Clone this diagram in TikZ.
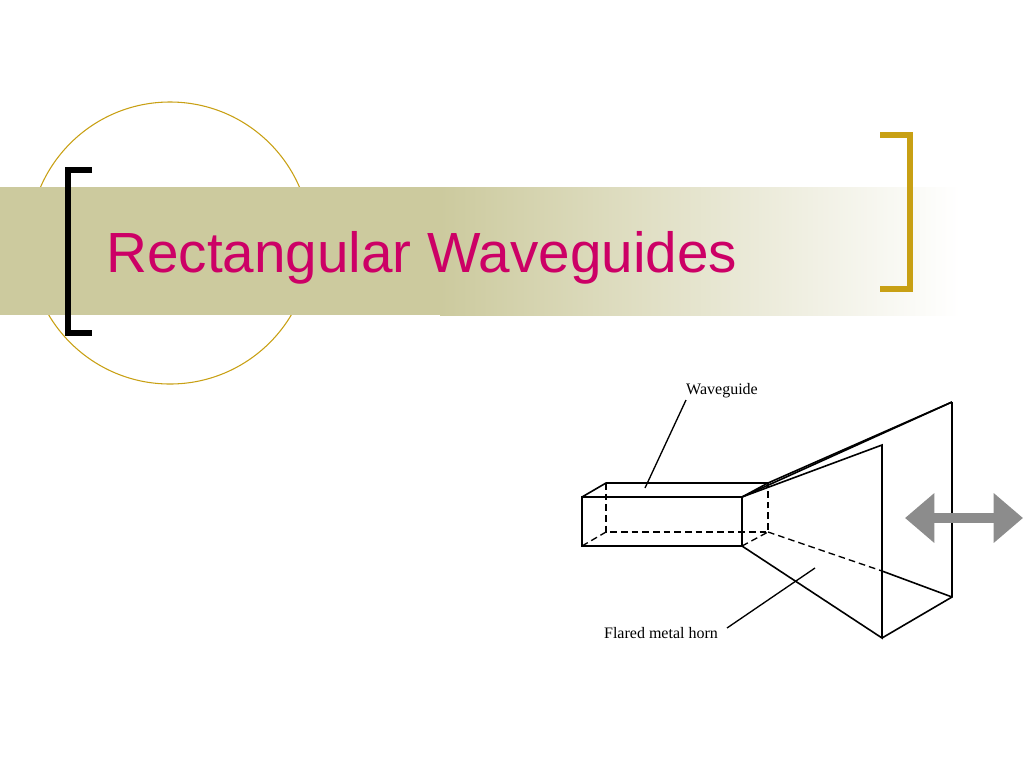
\documentclass[tikz,border=0pt]{standalone}
\usepackage{fontspec}
\setmainfont{Liberation Sans}
\newfontfamily\serifx{Liberation Serif}
\usetikzlibrary{arrows.meta}
\definecolor{olive}{RGB}{204,202,158}
\definecolor{gold}{RGB}{200,160,20}
\definecolor{mag}{RGB}{204,0,102}
\begin{document}
\begin{tikzpicture}[x=0.75pt,y=-0.75pt,
  ln/.style={line width=1.2pt,black},
  dl/.style={line width=1pt,black,dash pattern=on 5pt off 3pt},
  lbl/.style={font=\serifx\fontsize{12}{14}\selectfont,inner sep=1pt}]
\useasboundingbox (0,0) rectangle (1024,768);
\draw[gold,line width=0.8pt] (170,243) circle (141);
\fill[olive] (0,187) rectangle (441,315);
\shade[left color=olive,right color=white] (440,187) rectangle (960,315);
\draw[black,line width=4pt] (92,170) -- (68,170) -- (68,333) -- (92,333);
\draw[gold,line width=4pt] (880,135) -- (910,135) -- (910,289) -- (880,289);
\node[anchor=base west,text=mag,font=\fontsize{42.5}{48}\selectfont,inner sep=0] (title) at (106,272) {Rectangular Waveguides};
% waveguide
\coordinate (A) at (582,497); \coordinate (B) at (742,497);
\coordinate (C) at (742,546); \coordinate (D) at (582,546);
\coordinate (E) at (606,483); \coordinate (F) at (768,483);
\coordinate (G) at (768,532); \coordinate (H) at (606,532);
\coordinate (P) at (882,445); \coordinate (Q) at (952,402);
\coordinate (R) at (952,597); \coordinate (S) at (882,638);
\coordinate (T) at (882,571);
\draw[ln] (A) rectangle (C);
\draw[ln] (A) -- (E) -- (F) -- (B);
\draw[dl] (E) -- (H) -- (G) -- (F);
\draw[dl] (D) -- (H);
\draw[dl] (C) -- (G);
\draw[dl] (G) -- (T);
\draw[ln] (B) -- (P) -- (S) -- (C);
\draw[ln] (B) -- (Q); \draw[ln] (F) -- (Q);
\draw[ln] (Q) -- (R) -- (S);
\draw[ln] (T) -- (R);
\node[lbl,anchor=center] (wg) at (722,391) {Waveguide};
\node[lbl,anchor=center] (fh) at (661,633) {Flared metal horn};
\coordinate (wgp) at (645,488); \coordinate (fhp) at (815,568);
\draw[line width=1pt] (686,400) -- (wgp);
\draw[line width=1pt] (727,628) -- (fhp);
\coordinate (a1) at (905,518); \coordinate (a2) at (1023,518);
\draw[gray!90,line width=7pt,{Triangle[width=36pt,length=22pt]}-{Triangle[width=36pt,length=22pt]}] (a1) -- (a2);
\end{tikzpicture}
\end{document}
